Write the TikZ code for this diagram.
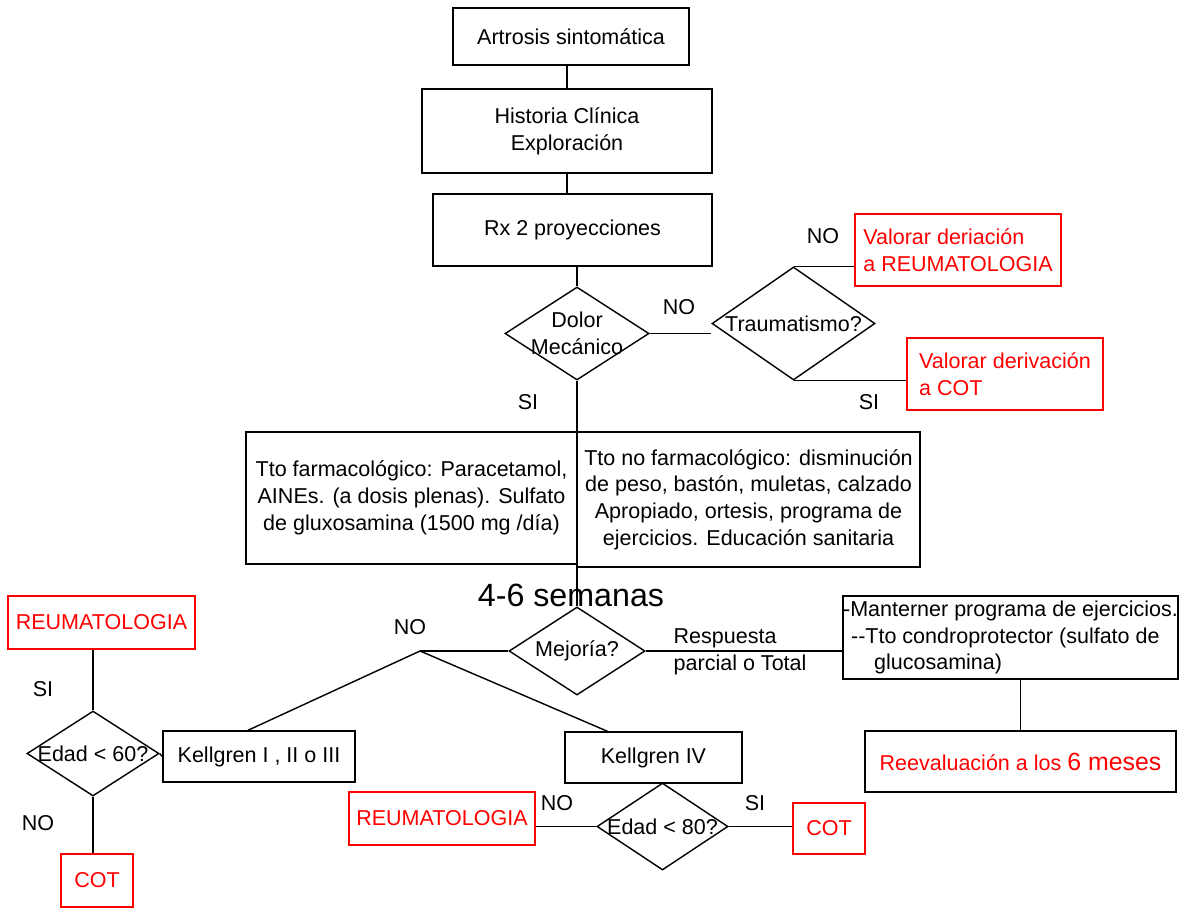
\documentclass[tikz,border=0pt]{standalone}
\usepackage{fontspec}
\setmainfont{Liberation Sans}
\usepackage{tikz}
\usetikzlibrary{shapes.geometric}
\definecolor{rojo}{rgb}{1, 0, 0}
\newcommand{\txt}{\fontsize{15.3}{19}\selectfont}
\newcommand{\bigtxt}{\fontsize{22.9}{26}\selectfont}
\newcommand{\midtxt}{\fontsize{17.7}{20}\selectfont}

\begin{document}
\begin{tikzpicture}[x=0.025cm, y=-0.025cm, line width=1pt,
		every node/.style={font=\txt},
		box/.style={draw, rectangle, inner sep=0pt, align=center},
		redbox/.style={box, draw=rojo, text=rojo},
		dec/.style={draw, diamond, inner sep=0pt, label={[font=\txt, align=center]center:{#1}}}]
			\useasboundingbox (0,0) rectangle (1183,909);
			\node[box, minimum width=5.9cm, minimum height=1.425cm] (art) at (571,36.5) {Artrosis sintomática};
			\node[box, minimum width=7.25cm, minimum height=2.1cm] (hist) at (567,131) {Historia Clínica\\Exploración};
			\node[box, minimum width=6.975cm, minimum height=1.8cm] (rx) at (572.5,230) {Rx 2 proyecciones};
			\node[dec={Dolor\\Mecánico}, minimum width=3.6cm, minimum height=2.325cm] (dolor) at (577,333.5) {};
			\node[dec={Traumatismo?}, minimum width=4.075cm, minimum height=2.825cm] (trauma) at (793.5,323.5) {};
			\node[redbox, align=left, minimum width=5.15cm, minimum height=1.8cm] (vreu) at (958,250) {Valorar deriación\\a REUMATOLOGIA};
			\node[redbox, align=left, minimum width=4.9cm, minimum height=1.8cm] (vcot) at (1005,374) {Valorar derivación\\a COT};
			\node[box, minimum width=8.275cm, minimum height=3.3cm] (trat1) at (411.5,498) {Tto farmacológico: Paracetamol,\\AINEs. (a dosis plenas). Sulfato\\de gluxosamina (1500 mg /día)};
			\node[box, minimum width=8.575cm, minimum height=3.375cm] (trat2) at (748.5,499.5) {Tto no farmacológico: disminución\\de peso, bastón, muletas, calzado\\Apropiado, ortesis, programa de\\ejercicios. Educación sanitaria};
			\node[font=\bigtxt] (sem) at (571,595) {4-6 semanas};
			\node[dec={Mejoría?}, minimum width=3.4cm, minimum height=2.2cm] (mej) at (577,651) {};
			\coordinate (nb) at (420,651);
			\node[box, minimum width=4.8cm, minimum height=1.275cm] (k1) at (259,756.5) {Kellgren I , II o III};
			\node[box, minimum width=4.425cm, minimum height=1.275cm] (k4) at (653.5,757.5) {Kellgren IV};
			\node[dec={Edad < 60?}, minimum width=3.3cm, minimum height=2.125cm] (e60) at (93,753.5) {};
			\node[redbox, minimum width=4.675cm, minimum height=1.325cm] (reu1) at (101.5,622.5) {REUMATOLOGIA};
			\node[redbox, minimum width=1.8cm, minimum height=1.325cm] (cot1) at (97,880.5) {COT};
			\node[dec={Edad < 80?}, minimum width=3.275cm, minimum height=2.175cm] (e80) at (662.5,826.5) {};
			\node[redbox, minimum width=4.65cm, minimum height=1.325cm] (reu2) at (442,818.5) {REUMATOLOGIA};
			\node[redbox, minimum width=1.8cm, minimum height=1.275cm] (cot2) at (829,828.5) {COT};
			\node[box, align=left, minimum width=8.275cm, minimum height=2.075cm] (mant) at (1010.5,637.5) {-Manterner programa de ejercicios.\\\hspace*{0.2cm}-{}-Tto condroprotector (sulfato de\\\hspace*{0.775cm}glucosamina)};
			\node[box, text=rojo, minimum width=7.775cm, minimum height=1.525cm] (reev) at (1020.5,761.5) {Reevaluación a los {\midtxt 6 meses}};
			\node (no1) at (679,307) {NO};
			\node (no2) at (823,236) {NO};
			\node (si1) at (869,402) {SI};
			\node (si2) at (528,402) {SI};
			\node (no3) at (410,627) {NO};
			\node (si3) at (43,689) {SI};
			\node (no4) at (38,823) {NO};
			\node (no5) at (557,803) {NO};
			\node (si4) at (755,803) {SI};
			\node[align=left, anchor=west, inner sep=0pt] (resp) at (673,651.5) {Respuesta\\parcial o Total};
			\draw (hist.north |- art.south) -- (hist.north);
			\draw (hist.south) -- (hist.south |- rx.north);
			\draw (dolor.north |- rx.south) -- (dolor.north);
			\draw (dolor.east) -- (dolor.east -| trauma.west);
			\draw (trauma.north) -- (trauma.north -| vreu.west);
			\draw (trauma.south) -- (trauma.south -| vcot.west);
			\draw (dolor.south) -- (mej.north);
			\draw (mej.west) -- (nb);
			\draw (nb) -- ([xshift=-0.275cm]k1.north);
			\draw (nb) -- ([xshift=-1.15cm]k4.north);
			\draw (mej.east) -- (mej.east -| mant.west);
			\draw (reev.north |- mant.south) -- (reev.north);
			\draw (e60.north) -- (e60.north |- reu1.south);
			\draw (e60.south) -- (e60.south |- cot1.north);
			\draw (e60.east) -- (k1.west);
			\draw (e80.north |- k4.south) -- (e80.north);
			\draw (e80.west) -- (e80.west -| reu2.east);
			\draw (e80.east) -- (e80.east -| cot2.west);
		\end{tikzpicture}
\end{document}
